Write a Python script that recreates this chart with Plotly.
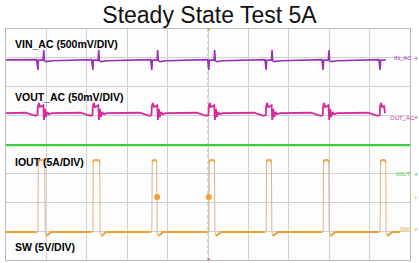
import plotly.graph_objects as go

# ---- data (time / level in divisions) ----
rise_div = [0.79, 2.15, 3.61, 5.02, 6.44, 7.85, 9.26]
fall_div = [0.97, 2.33, 3.74, 5.17, 6.58, 8.00, 9.41]

sw_low = 0.97
sw_high = 3.43
sw_undershoot = 0.83
sw_end = 9.75

iout_level = 3.98

vin_base = 6.93
vin_shape_dx = [-0.03, 0.0, 0.012, 0.13, 0.145, 0.16, 0.20, 0.35]
vin_shape_y = [6.94, 6.58, 6.92, 6.93, 7.27, 6.90, 6.87, 6.90]
vin_end = 9.40

vout_base = 5.09
vout_shape_dx = [-0.30, -0.06, -0.01, 0.0, 0.025, 0.05, 0.10, 0.135, 0.15, 0.175, 0.20, 0.235, 0.27, 0.35]
vout_shape_y = [5.10, 4.99, 5.02, 5.33, 5.44, 5.30, 5.33, 5.36, 4.85, 5.23, 4.95, 5.13, 5.05, 5.09]
vout_end = 9.38

dots_x = [3.74, 5.02]
dots_y = [2.18, 2.18]

labels = ["VIN_AC (500mV/DIV)", "VOUT_AC (50mV/DIV)", "IOUT (5A/DIV)", "SW (5V/DIV)"]
label_y = [7.48, 5.64, 3.39, 0.45]
ch_names = ["IN_AC", "OUT_AC", "IOUT", "SW"]
ch_y = [6.98, 4.93, 2.97, 1.07]

title = "Steady State Test 5A"

C_VIN = "#9a30b4"
C_VOUT = "#d6299c"
C_IOUT = "#3ccf3c"
C_SW = "#f2a131"
C_SW_EDGE = "#d8b58c"


def build(shape_dx, shape_y, base, end):
    xs, ys = [0.0], [base]
    for r in rise_div:
        for dx, y in zip(shape_dx, shape_y):
            x = r + dx
            if x <= end:
                xs.append(x)
                ys.append(y)
    if xs[-1] < end:
        xs.append(end)
        ys.append(base)
    return xs, ys


vin_x, vin_y = build(vin_shape_dx, vin_shape_y, vin_base, vin_end)
vout_x, vout_y = build(vout_shape_dx, vout_shape_y, vout_base, vout_end)

# switching node: full waveform (faint edges) and bright baseline segments
sw_x, sw_y = [0.0], [sw_low]
base_x, base_y = [0.0], [sw_low]
top_x, top_y = [], []
for r, f in zip(rise_div, fall_div):
    sw_x += [r, r + 0.01, r + 0.03, f - 0.03, f - 0.01, f, f + 0.03, f + 0.15]
    sw_y += [sw_low, sw_high, sw_high + 0.03, sw_high + 0.03, sw_high, sw_low, sw_undershoot, sw_low]
    base_x += [r - 0.03, None, f + 0.03, f + 0.15]
    base_y += [sw_low, None, sw_undershoot, sw_low]
    top_x += [r + 0.01, r + 0.03, f - 0.03, f - 0.01, None]
    top_y += [sw_high - 0.05, sw_high + 0.03, sw_high + 0.03, sw_high - 0.05, None]
sw_x.append(sw_end)
sw_y.append(sw_low)
base_x.append(sw_end)
base_y.append(sw_low)

fig = go.Figure()
fig.add_trace(go.Scatter(x=[0, 10], y=[iout_level, iout_level], mode="lines",
                         line=dict(color=C_IOUT, width=2.2), hoverinfo="skip"))
fig.add_trace(go.Scatter(x=sw_x, y=sw_y, mode="lines",
                         line=dict(color=C_SW_EDGE, width=1), hoverinfo="skip"))
fig.add_trace(go.Scatter(x=base_x, y=base_y, mode="lines",
                         line=dict(color=C_SW, width=2), hoverinfo="skip"))
fig.add_trace(go.Scatter(x=top_x, y=top_y, mode="lines",
                         line=dict(color=C_SW, width=1.5), hoverinfo="skip"))
fig.add_trace(go.Scatter(x=vin_x, y=vin_y, mode="lines",
                         line=dict(color=C_VIN, width=1.6), hoverinfo="skip"))
fig.add_trace(go.Scatter(x=vout_x, y=vout_y, mode="lines",
                         line=dict(color=C_VOUT, width=1.8), hoverinfo="skip"))
fig.add_trace(go.Scatter(x=dots_x, y=dots_y, mode="markers",
                         marker=dict(color=C_SW, size=6), hoverinfo="skip"))
# trigger position marks
fig.add_trace(go.Scatter(x=[5.02, 5.02], y=[8, 0], mode="markers",
                         marker=dict(color=["#f08a3a", "#e8503a"], size=4,
                                     symbol=["triangle-down", "triangle-up"]),
                         hoverinfo="skip", cliponaxis=False))

# centre dashed graticule line
fig.add_shape(type="line", x0=5, x1=5, y0=0, y1=8, xref="x", yref="y",
              line=dict(color="#a9aca9", width=1, dash="dot"), layer="below")

ann = []
for t, y in zip(labels, label_y):
    ann.append(dict(x=0.17, y=y, xref="x", yref="y", text="<b>" + t + "</b>",
                    showarrow=False, xanchor="left", yanchor="middle",
                    font=dict(family="Arial, Liberation Sans", size=10.5, color="#000000",
                              weight="bold")))
ch_cols = [C_VIN, C_VOUT, C_IOUT, C_SW]
ch_x = [9.55, 9.45, 9.60, 9.70]
for t, y, c, x in zip(ch_names, ch_y, ch_cols, ch_x):
    ann.append(dict(x=x, y=y, xref="x", yref="y", text=t, showarrow=False,
                    xanchor="left", yanchor="middle",
                    font=dict(family="Liberation Sans, Arial", size=6, color=c)))
    ann.append(dict(x=1.015, y=y / 8, xref="paper", yref="paper", text="+", showarrow=False,
                    xanchor="center", yanchor="middle",
                    font=dict(family="Liberation Sans, Arial", size=7, color=c)))
ann.append(dict(x=1.015, y=2.18 / 8, xref="paper", yref="paper", text="+", showarrow=False,
                xanchor="center", yanchor="middle",
                font=dict(family="Liberation Sans, Arial", size=6, color=C_SW)))

fig.update_layout(
    width=419, height=263,
    margin=dict(l=6, r=9, t=29, b=3),
    paper_bgcolor="white",
    plot_bgcolor="#fcfdfc",
    showlegend=False,
    title=dict(text=title, x=0.5, xanchor="center", y=1 - 14.5 / 263, yanchor="middle",
               yref="container",
               font=dict(family="Liberation Sans, Arial", size=23, color="#111111")),
    xaxis=dict(range=[0, 10], dtick=1, tick0=0, showticklabels=False, ticks="",
               showgrid=True, gridcolor="#cfd2cf", gridwidth=1, zeroline=False,
               showline=True, mirror=True, linecolor="#b9bcb9", linewidth=1, fixedrange=True),
    yaxis=dict(range=[0, 8], dtick=1, tick0=0, showticklabels=False, ticks="",
               showgrid=True, gridcolor="#cfd2cf", gridwidth=1, zeroline=False,
               showline=True, mirror=True, linecolor="#b9bcb9", linewidth=1, fixedrange=True),
    annotations=ann,
)

fig.write_html("out.html", config={"displayModeBar": False},
               post_script="document.body.style.margin='0';document.body.style.overflow='hidden';")
